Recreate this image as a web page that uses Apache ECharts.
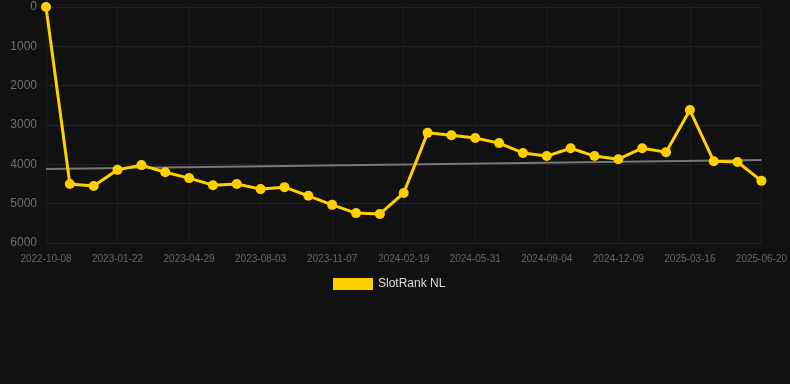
<!DOCTYPE html>
<html><head><meta charset="utf-8">
<script src="https://cdn.jsdelivr.net/npm/echarts@6/dist/echarts.min.js"></script>
<style>html,body{margin:0;padding:0;background:#111111;}#c{width:790px;height:384px;}</style>
</head><body><div id="c"></div>
<script>
var dates = ['2022-10-08','2022-11-12','2022-12-17','2023-01-22','2023-02-23','2023-03-28','2023-04-29','2023-06-03','2023-07-01','2023-08-03','2023-09-06','2023-10-08','2023-11-07','2023-12-11','2024-01-16','2024-02-19','2024-03-25','2024-04-28','2024-05-31','2024-07-05','2024-08-02','2024-09-04','2024-10-08','2024-11-06','2024-12-09','2025-01-12','2025-02-12','2025-03-16','2025-04-20','2025-05-18','2025-06-20'];
var ranks = [0,4500,4550,4140,4020,4200,4350,4530,4500,4630,4580,4800,5030,5240,5260,4730,3200,3260,3330,3460,3710,3790,3590,3790,3870,3590,3690,2620,3920,3940,4420];
var trend = [[0,4120],[30,3890]];
var seriesName = 'SlotRank NL';
var chart = echarts.init(document.getElementById('c'));
chart.setOption({
  backgroundColor:'#111111',
  animation:false,
  grid:{left:46,right:28,top:7,bottom:141},
  legend:{top:273,left:328,itemWidth:40,itemHeight:12,icon:'rect',itemGap:10,
    data:[seriesName],textStyle:{color:'#dddddd',fontSize:12,fontFamily:'Arial, Liberation Sans, sans-serif'}},
  xAxis:{type:'category',data:dates,boundaryGap:false,
    axisLine:{show:false},axisTick:{show:false},
    axisLabel:{interval:2,color:'#666666',fontSize:10,margin:11,fontFamily:'Arial, Liberation Sans, sans-serif'},
    splitLine:{show:true,interval:2,lineStyle:{color:'#1c1c1c',width:1}}},
  yAxis:{type:'value',inverse:true,min:0,max:6000,interval:1000,
    axisLine:{show:false},axisTick:{show:false},
    axisLabel:{color:'#707070',fontSize:12,margin:9,formatter:function(v){return String(v);},fontFamily:'Arial, Liberation Sans, sans-serif'},
    splitLine:{lineStyle:{color:'#222222',width:1}}},
  series:[
    {name:seriesName,type:'line',data:ranks,symbol:'circle',symbolSize:10,
      lineStyle:{color:'#FFD000',width:3},itemStyle:{color:'#FFD000'},z:3},
    {name:'trend',type:'line',data:trend,symbol:'none',silent:true,
      lineStyle:{color:'#777777',width:2},itemStyle:{color:'#777777'},z:2}
  ]
});
</script></body></html>
